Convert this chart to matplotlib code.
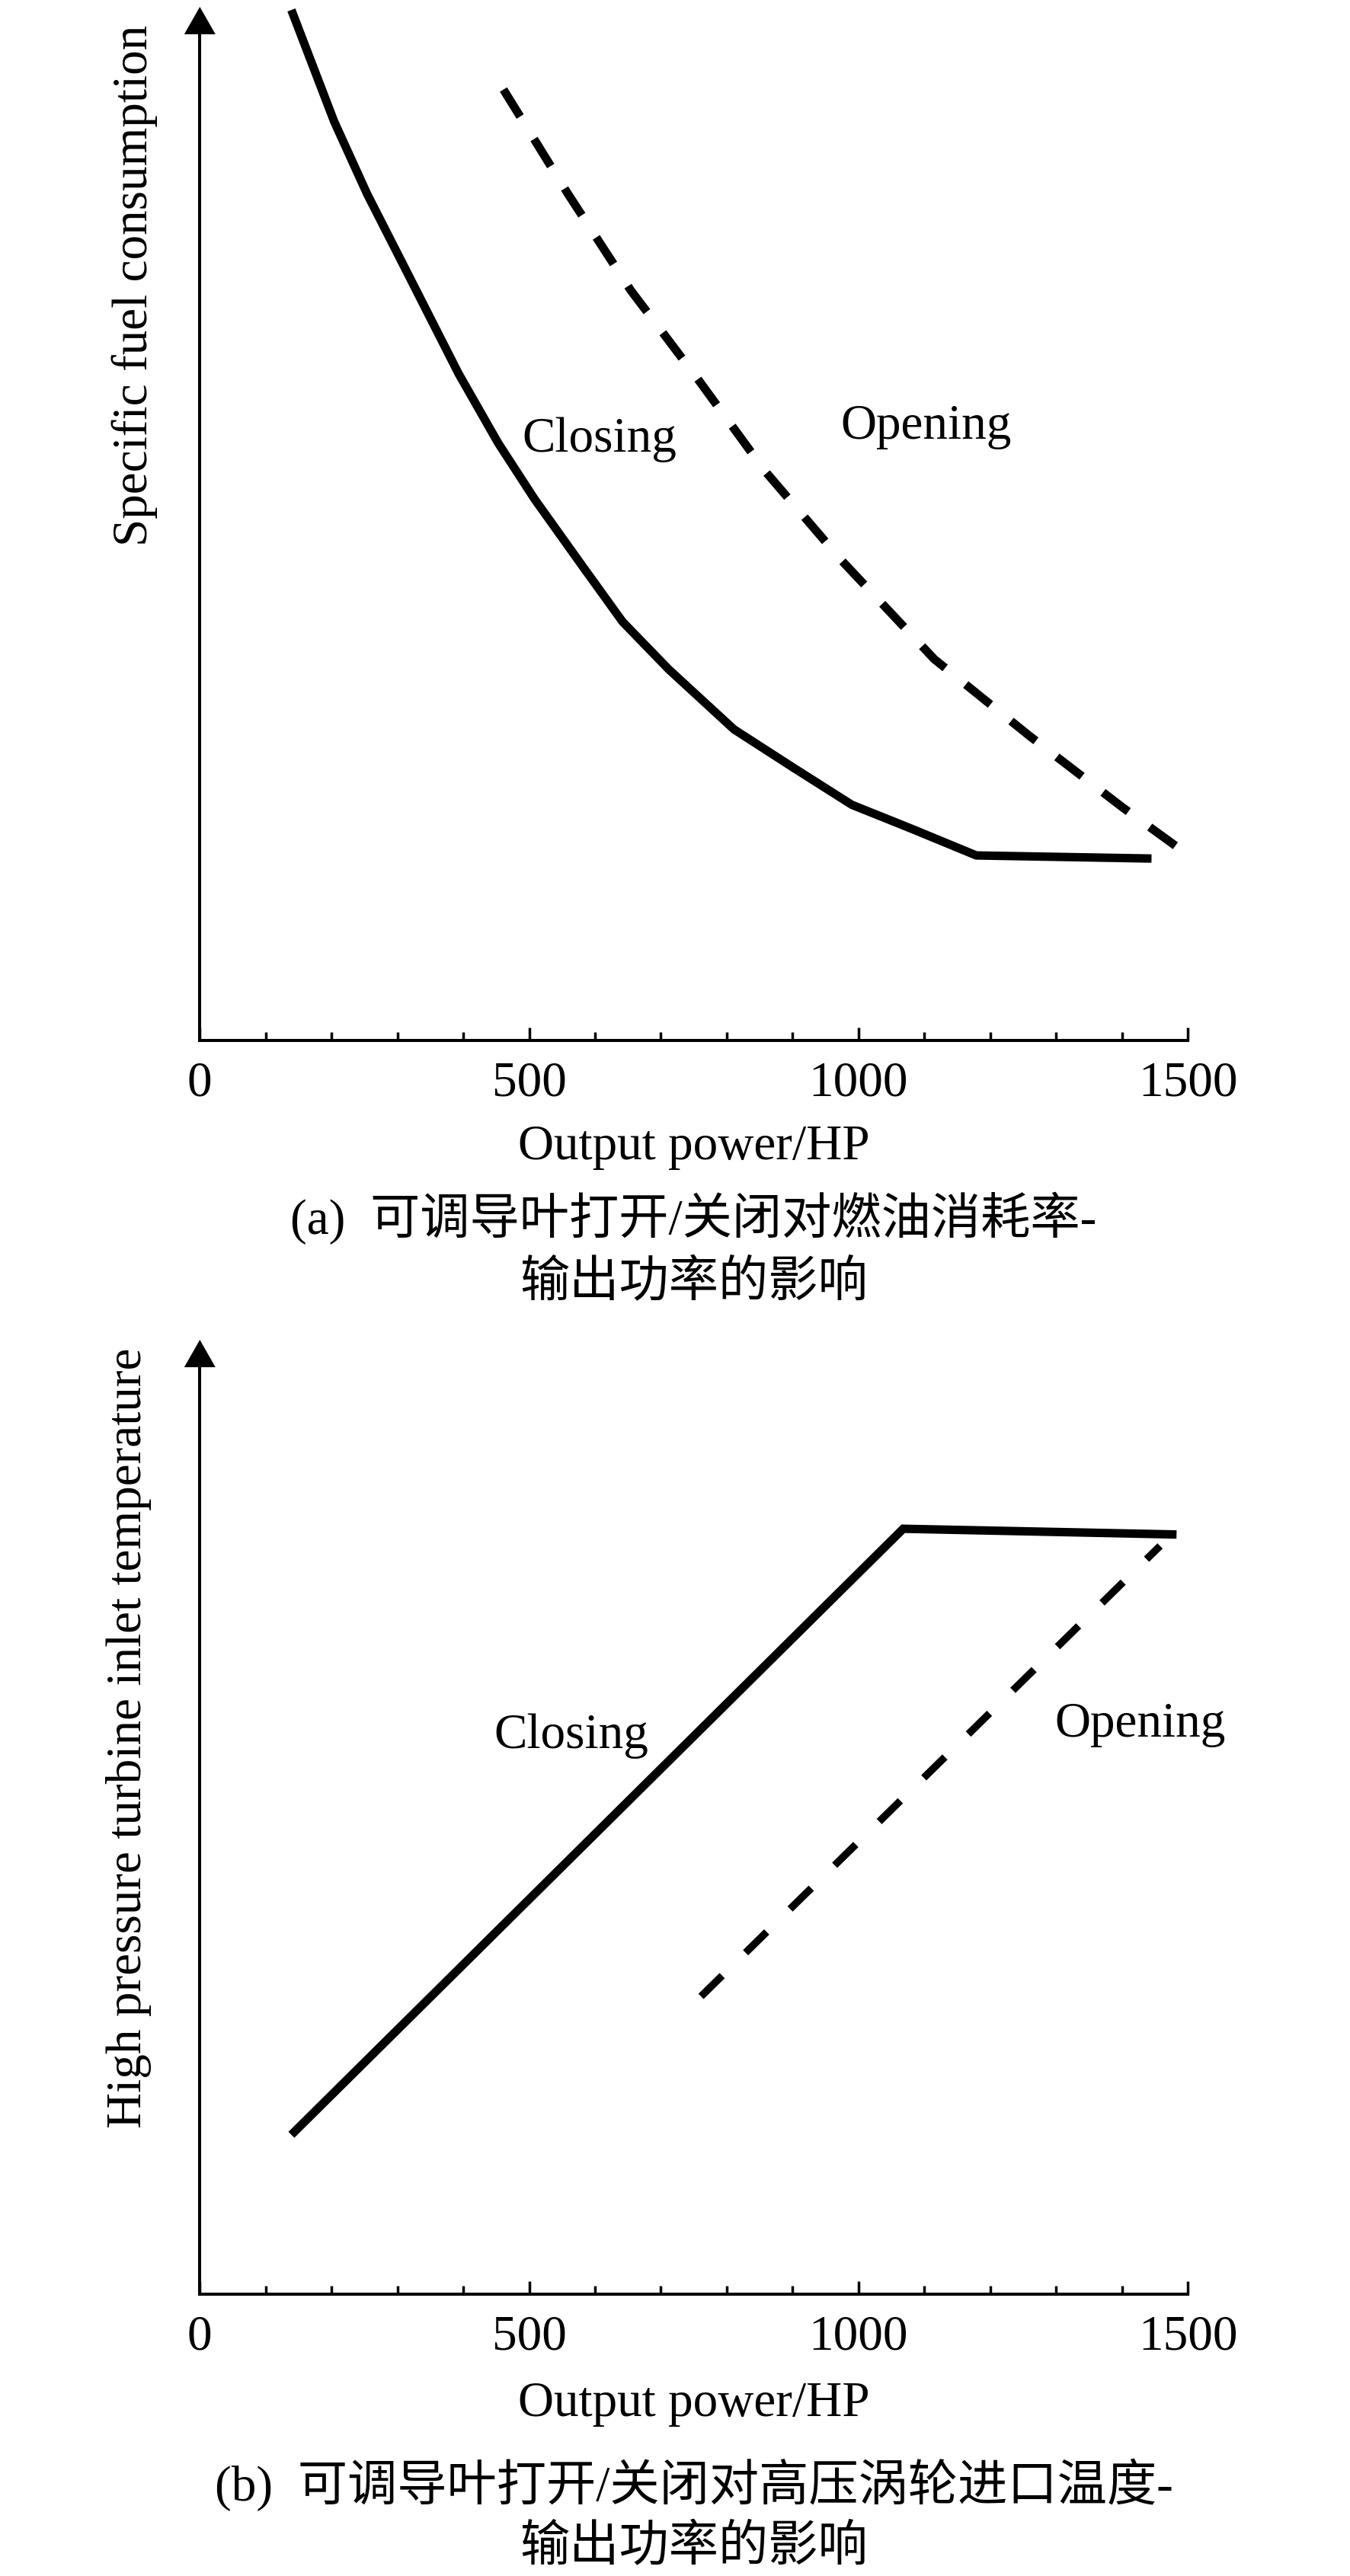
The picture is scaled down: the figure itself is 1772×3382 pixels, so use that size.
import matplotlib
matplotlib.use('Agg')
import matplotlib.pyplot as plt
from matplotlib.patches import Polygon
from matplotlib.ticker import MultipleLocator, FixedLocator

plt.rcParams['font.family'] = ['Liberation Serif', 'Noto Sans CJK SC']
plt.rcParams['lines.scale_dashes'] = False

# ---------------- data (y in relative units, arrow tip = 100) ----------------
closing_a_x = [139, 204, 254, 314, 393, 453, 508, 582, 642, 712, 811, 901, 990, 1080, 1179, 1445]
closing_a_y = [99.7, 88.9, 81.9, 74.4, 64.5, 57.8, 52.4, 45.8, 40.5, 35.9, 30.1, 26.4, 22.8, 20.5, 17.9, 17.6]
opening_a_x = [461, 559, 654, 756, 858, 975, 1115, 1259, 1400, 1493]
opening_a_y = [92.0, 81.9, 72.6, 64.0, 55.1, 46.4, 36.9, 29.5, 22.6, 18.3]

closing_b_x = [139, 1068, 1483]
closing_b_y = [16.7, 80.2, 79.6]
opening_b_x = [761, 1458]
opening_b_y = [31.2, 78.4]

x_ticks = [0, 500, 1000, 1500]
x_tick_labels = ['0', '500', '1000', '1500']

xlabel = 'Output power/HP'
ylabel_a = 'Specific fuel consumption'
ylabel_b = 'High pressure turbine inlet temperature'
caption_a = ['(a)\u2002可调导叶打开/关闭对燃油消耗率-', '输出功率的影响']
caption_b = ['(b)\u2002可调导叶打开/关闭对高压涡轮进口温度-', '输出功率的影响']
curve_labels = ['Closing', 'Opening']
label_pos_a = [(607, 57.0), (1103, 58.2)]
label_pos_b = [(564, 57.2), (1428, 58.4)]

# ---------------- layout (pixels) ----------------
W, H = 1772, 3382
FS = 47
x_left, x_right = 262.3, 1559.0

fig = plt.figure(figsize=(W / 100, H / 100), dpi=100)


def make_panel(axis_y, tip_y, ylab, ylab_top, ylab_base_x,
               xlab_base, caps, cap_bases,
               cx, cy, ox, oy, lab_pos, lw_solid, lw_dash, dash, join):
    width_px = x_right - x_left
    height_px = axis_y - tip_y
    ax = fig.add_axes([x_left / W, 1 - axis_y / H, width_px / W, height_px / H])
    ax.set_xlim(0, 1500)
    ax.set_ylim(0, 100)
    ax.patch.set_alpha(0)
    for s in ['top', 'right']:
        ax.spines[s].set_visible(False)
    for s in ['left', 'bottom']:
        ax.spines[s].set_linewidth(2.9)
        ax.spines[s].set_capstyle('projecting')
    base = 100 * (1 - 36 / height_px)
    ax.spines['left'].set_bounds(0, base)
    # arrow head on y axis
    hw = 20.5 / width_px
    hl = 36 / height_px
    ax.add_patch(Polygon([(0, 1), (-hw, 1 - hl), (hw, 1 - hl)], closed=True,
                         transform=ax.transAxes, facecolor='black',
                         edgecolor='none', clip_on=False))
    ax.set_yticks([])
    ax.xaxis.set_major_locator(FixedLocator(x_ticks))
    ax.set_xticklabels(x_tick_labels)
    ax.xaxis.set_minor_locator(MultipleLocator(100))
    ax.tick_params(axis='x', which='both', direction='in', width=2.5,
                   labelsize=FS, pad=19.5)
    ax.tick_params(axis='x', which='major', length=12.5)
    ax.tick_params(axis='x', which='minor', length=8)

    ax.plot(cx, cy, color='black', lw=lw_solid, solid_capstyle='butt',
            solid_joinstyle=join, clip_on=False)
    ln, = ax.plot(ox, oy, color='black', lw=lw_dash, dash_capstyle='butt',
                  clip_on=False)
    ln.set_dashes(dash)

    for t, (px, py) in zip(curve_labels, lab_pos):
        ax.text(px, py, t, fontsize=FS, ha='center', va='baseline')

    ax.set_xlabel(xlabel, fontsize=FS)
    ax.xaxis.set_label_coords(0.5, (axis_y - xlab_base) / height_px)
    ax.xaxis.label.set_verticalalignment('baseline')

    ax.set_ylabel(ylab, fontsize=FS)
    ax.yaxis.set_label_coords((ylab_base_x - x_left) / width_px,
                              (axis_y - ylab_top) / height_px)
    ax.yaxis.label.set_rotation_mode('anchor')
    ax.yaxis.label.set_horizontalalignment('right')
    ax.yaxis.label.set_verticalalignment('baseline')

    xc = (x_left + x_right) / 2 / W
    for c, b in zip(caps, cap_bases):
        fig.text(xc, 1 - b / H, c, fontsize=FS, ha='center', va='baseline')
    return ax


make_panel(1366, 9, ylabel_a, 33, 193, 1522, caption_a, [1620, 1702],
           closing_a_x, closing_a_y, opening_a_x, opening_a_y, label_pos_a,
           8, 8, (30, 25), 'round')
make_panel(3012, 1759, ylabel_b, 1770, 185, 3172, caption_b, [3283, 3362],
           closing_b_x, closing_b_y, opening_b_x, opening_b_y, label_pos_b,
           8, 7, (28, 31), 'miter')

fig.savefig('out.png', dpi=100)
